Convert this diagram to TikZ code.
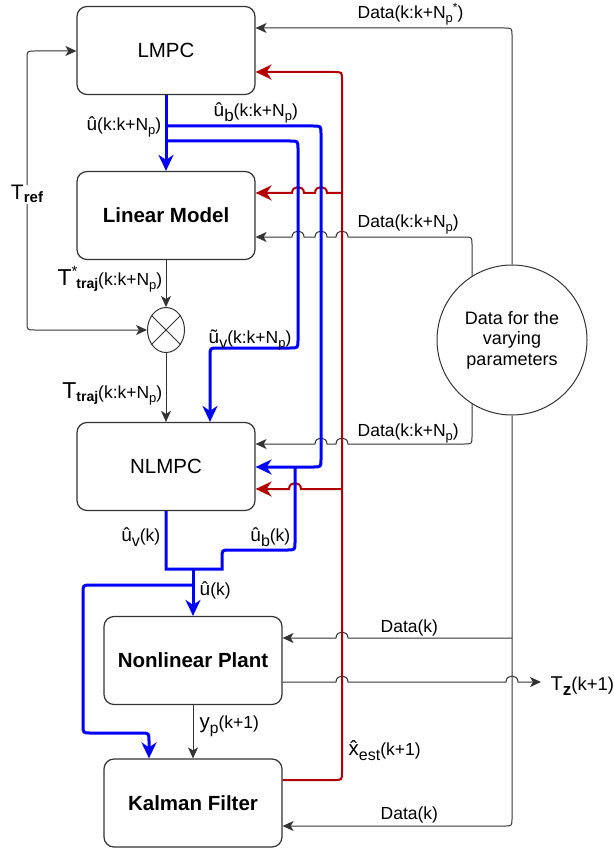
\documentclass[tikz,border=0pt]{standalone}
\usepackage{fontspec}
\setmainfont{Liberation Sans}
\usetikzlibrary{arrows.meta,shapes.geometric}
\definecolor{myblue}{HTML}{0000FF}
\definecolor{myred}{HTML}{B20000}
\definecolor{lnc}{HTML}{333333}
\newcommand{\myfs}[1]{\fontsize{#1}{#1}\selectfont}
\newcommand{\lowr}[3]{\raisebox{-#1}{\myfs{#2}#3}}
\newcommand{\kNp}{(k:k+N\lowr{4pt}{13}{p})}
\begin{document}
\begin{tikzpicture}[x=1pt,y=-1pt,
  box/.style={draw=lnc,line width=1.2pt,rounded corners=10pt,minimum width=178pt,minimum height=88pt,inner sep=0pt,font=\myfs{20.5}},
  boxb/.style={box,font=\myfs{20.5}\bfseries},
  lbl/.style={inner sep=0.5pt,font=\myfs{17.5},text=black},
  blk/.style={draw=lnc,line width=1pt},
  bl/.style={draw=myblue,line width=3pt},
  rd/.style={draw=myred,line width=2pt},
  tipk/.style={-{Stealth[length=11pt,width=10pt,inset=3pt]}},
  tipb/.style={-{Stealth[length=16pt,width=15pt,inset=5pt]}},
  hopl/.style n args={2}{insert path={-- (#1+6,#2) .. controls (#1+6,#2-8) and (#1-6,#2-8) .. (#1-6,#2)}},
  hopr/.style n args={2}{insert path={-- (#1-6,#2) .. controls (#1-6,#2-8) and (#1+6,#2-8) .. (#1+6,#2)}}
]
\useasboundingbox (0,0) rectangle (613,850);

% boxes
\node[box]  (lmpc) at (166,50.5) {LMPC};
\node[boxb] (lin)  at (166,215.5) {Linear Model};
\node[box]  (nl)   at (166,466.5) {NLMPC};
\node[boxb] (pl)   at (193,660.5) {Nonlinear Plant};
\node[boxb] (kf)   at (193,803) {Kalman Filter};
\node[draw=lnc,line width=1pt,ellipse,minimum width=37pt,minimum height=45pt,inner sep=0pt] (sum) at (166,330) {};
\draw[blk] (sum.45) -- (sum.225) (sum.135) -- (sum.315);
\node[draw=lnc,line width=1pt,circle,minimum size=150pt,inner sep=0pt,align=center,font=\fontsize{18}{20.5}\selectfont] (big) at (512,340) {Data for the\\varying\\parameters};

% helper coordinates
\coordinate (y28) at (0,28);
\coordinate (y51) at (0,51);
\coordinate (y72) at (0,72);
\coordinate (y193) at (0,193);
\coordinate (y237) at (0,237);
\coordinate (y444) at (0,444);
\coordinate (y467) at (0,467);
\coordinate (y489) at (0,489);
\coordinate (y638) at (0,638);
\coordinate (y682) at (0,682);
\coordinate (y780) at (0,780);
\coordinate (y826) at (0,826);
\coordinate (xb2) at (210,0);
\coordinate (xk) at (149,0);
\coordinate (rl) at (342,193);
\coordinate (rn) at (342,489);
\coordinate (b1) at (166,126);
\coordinate (b2) at (166,141);
\coordinate (jb2) at (295,467);
\coordinate (jd) at (193,569);
\coordinate (jk) at (193,585);
\coordinate (dk) at (512,638);
\coordinate (tzend) at (541,682);

% black connectors
\draw[blk,tipk] (lin.south) -- (sum.north);
\draw[blk,tipk] (sum.south) -- (nl.north);
\draw[blk,{Stealth[length=11pt,width=10pt,inset=3pt]}-{Stealth[length=11pt,width=10pt,inset=3pt]}]
  (sum.west) -- (35,330) .. controls (27,330) .. (27,322) -- (27,59) .. controls (27,51) .. (35,51) -- (lmpc.west |- y51);
\draw[blk,tipk] (big.north) -- (512,36) .. controls (512,28) .. (504,28) -- (lmpc.east |- y28);
\draw[blk,tipk] (big.122) -- (472,245) .. controls (472,237) .. (464,237)
  [hopl={342}{237}] [hopl={321}{237}] [hopl={298}{237}] -- (lin.east |- y237);
\draw[blk,tipk] (big.238) -- (472,436) .. controls (472,444) .. (464,444)
  [hopl={342}{444}] [hopl={321}{444}] -- (nl.east |- y444);
\draw[blk,tipk] (big.south) -- (512,818) .. controls (512,826) .. (504,826) -- (kf.east |- y826);
\draw[blk,tipk] (dk) [hopl={342}{638}] -- (pl.east |- y638);
\draw[blk,tipk] (pl.east |- y682) [hopr={342}{682}] [hopr={512}{682}] -- (tzend);
\draw[blk,tipk] (pl.south) -- (kf.north);

% red connectors
\draw[rd,tipb] (kf.east |- y780) -- (334,780) .. controls (342,780) .. (342,772) -- (342,80) .. controls (342,72) .. (334,72) -- (lmpc.east |- y72);
\draw[rd,tipb] (rl) [hopl={321}{193}] [hopl={298}{193}] -- (lin.east |- y193);
\draw[rd,tipb] (rn) [hopl={295}{489}] -- (nl.east |- y489);

% blue connectors
\draw[bl,tipb] (lmpc.south) -- (lin.north);
\draw[bl,tipb] (b1) -- (313,126) .. controls (321,126) .. (321,134) -- (321,459) .. controls (321,467) .. (313,467) -- (nl.east |- y467);
\draw[bl,tipb] (b2) -- (290,141) .. controls (298,141) .. (298,149) -- (298,340) .. controls (298,348) .. (290,348) -- (218,348) .. controls (210,348) .. (210,356) -- (nl.north -| xb2);
\draw[bl] (nl.south) -- (166,569) -- (222,569) -- (222,558) .. controls (222,550) .. (230,550) -- (287,550) .. controls (295,550) .. (295,542) -- (jb2);
\draw[bl,tipb] (jd) -- (pl.north);
\draw[bl,tipb] (jk) -- (91,585) .. controls (83,585) .. (83,593) -- (83,725) .. controls (83,733) .. (91,733) -- (141,733) .. controls (149,733) .. (149,741) -- (kf.north -| xk);

% labels
\node[lbl,fill=white,anchor=base] (tref) at (27,200) {{\myfs{21}T}\lowr{3pt}{15}{\bfseries ref}};
\node[lbl,anchor=base east] (ttrs) at (163,285) {{\myfs{23}T}\raisebox{9pt}{\myfs{15}*}\kern-1pt\lowr{3pt}{14}{\bfseries traj}\kNp};
\node[lbl,anchor=base east] (ttr) at (163,398) {{\myfs{23}T}\lowr{3pt}{14}{\bfseries traj}\kNp};
\node[lbl,anchor=base east] (uh) at (162,131) {{\myfs{19}û}\kNp};
\node[lbl,anchor=base west] (ub) at (213,117) {{\myfs{19}û}\lowr{5pt}{17}{b}\kNp};
\node[lbl,anchor=base west] (uv) at (208,343) {{\myfs{19}ũ}\lowr{5pt}{16}{v}\kNp};
\node[lbl,anchor=base west] (d1) at (357,19) {Data(k:k+N\lowr{4pt}{13}{p}\raisebox{7pt}{\myfs{12}*})};
\node[lbl,anchor=base west] (d2) at (357,228) {Data\kNp};
\node[lbl,anchor=base west] (d3) at (357,436) {Data\kNp};
\node[lbl,anchor=base west] (d4) at (380,632) {Data(k)};
\node[lbl,anchor=base west] (d5) at (380,819) {Data(k)};
\node[lbl,anchor=base east] (uvk) at (161,541) {{\myfs{19}û}\lowr{5pt}{16}{v}(k)};
\node[lbl,anchor=base east] (ubk) at (291,541) {{\myfs{19}û}\lowr{5pt}{16}{b}(k)};
\node[lbl,anchor=base west] (uk) at (199,595) {{\myfs{19}û}(k)};
\node[lbl,anchor=base west] (yp) at (199,728) {{\myfs{20.5}y}\lowr{5pt}{15.5}{p}(k+1)};
\node[lbl,anchor=base west] (xe) at (348,755) {{\myfs{20.5}x̂}\lowr{5pt}{16}{est}(k+1)};
\node[lbl,anchor=base west,font=\myfs{18.5}] (tz) at (550,690) {{\myfs{20}T}\lowr{5pt}{17}{\bfseries z}(k+1)};
\end{tikzpicture}
\end{document}
